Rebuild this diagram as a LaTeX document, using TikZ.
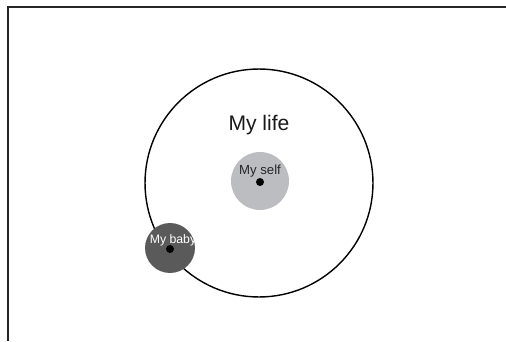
\documentclass[tikz,border=0pt]{standalone}
\usepackage{fontspec}
\setmainfont{Liberation Sans}
\usepackage{xcolor}
\usetikzlibrary{positioning}

\definecolor{selfgray}{HTML}{BCBDC0}
\definecolor{babygray}{HTML}{5A5A5A}

\begin{document}
\begin{tikzpicture}[x=0.02cm, y=-0.02cm,
    ring/.style={circle, draw, line width=0.8pt, minimum size=4.56cm, inner sep=0pt},
    blob/.style={circle, inner sep=0pt},
    pin/.style={circle, fill=black, minimum size=0.16cm, inner sep=0pt}]

    \useasboundingbox (0,0) rectangle (506,341);

    % =================================================================
    % KHUNG: CHI CO CANH TREN VA CANH TRAI
    % =================================================================
    \draw[line width=1.1pt, color=black!85] (506,7) -- (8,7) -- (8,341);

    % =================================================================
    % VONG TRON LON VA CAC VONG TRON NHO
    % =================================================================
    % Vong tron lon
    \node[ring] (life) at (259,183) {};
    \node[font=\fontsize{12}{14}\selectfont, text=black!90] (lifelabel) at (259,125) {My life};

    % Vong tron "My self" o giua
    \node[blob, fill=selfgray, minimum size=1.16cm] (self) at (260,181) {};
    \node[pin] (selfdot) at (260,182) {};
    \node[font=\fontsize{7.5}{9}\selectfont, text=black!85] (selflabel) at (260,171) {My self};

    % Vong tron "My baby" nam tren vong tron lon
    \node[blob, fill=babygray, minimum size=1.0cm] (baby) at (170,248) {};
    \node[pin] (babydot) at (170,249) {};
    \node[font=\fontsize{7}{8}\selectfont, text=white, inner sep=0pt] (babylabel) at (173,240) {My baby};

\end{tikzpicture}
\end{document}
